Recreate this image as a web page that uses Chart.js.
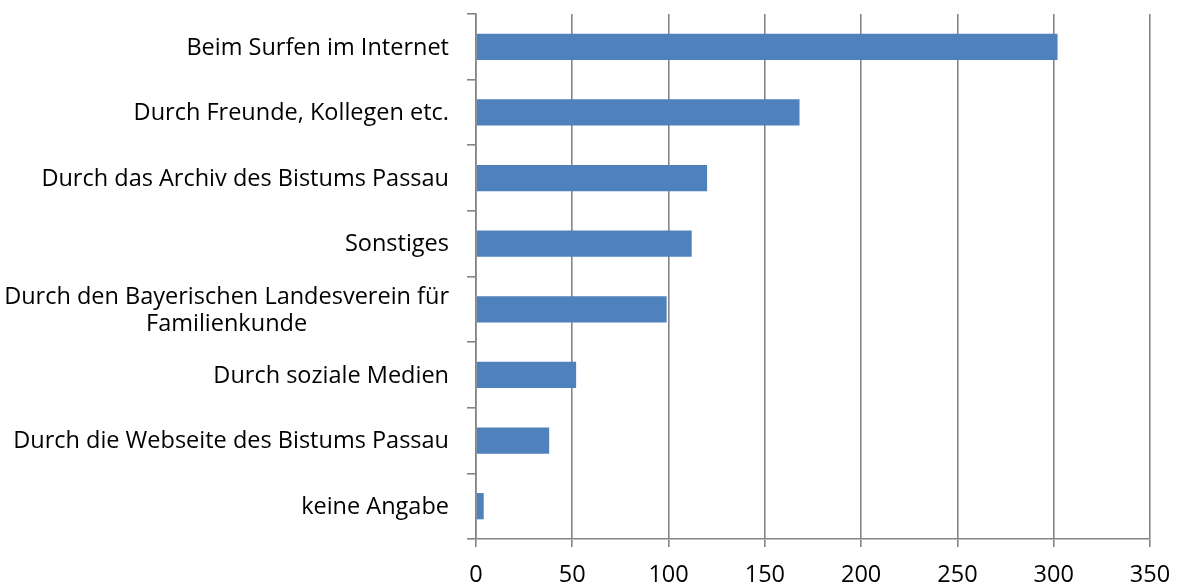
<!DOCTYPE html>
<html>
<head>
<meta charset="utf-8">
<script src="https://cdn.jsdelivr.net/npm/chart.js@4.4.1/dist/chart.umd.min.js"></script>
<style>
    html, body { margin: 0; padding: 0; background: #ffffff; }
    #wrap { width: 1180px; height: 588px; }
</style>
</head>
<body>
<div id="wrap"><canvas id="chart" width="1180" height="588"></canvas></div>
<script>
// Categories (top to bottom) and their counts
const categories = [
    ['Beim Surfen im Internet'],
    ['Durch Freunde, Kollegen etc.'],
    ['Durch das Archiv des Bistums Passau'],
    ['Sonstiges'],
    ['Durch den Bayerischen Landesverein für', 'Familienkunde'],
    ['Durch soziale Medien'],
    ['Durch die Webseite des Bistums Passau'],
    ['keine Angabe']
];
const counts = [302, 168, 120, 112, 99, 52, 38, 4];
const xTicks = [0, 50, 100, 150, 200, 250, 300, 350];

const FONT = '"Open Sans", sans-serif';
const FONT_SIZE = 23.5;
const AXIS_GRAY = '#858585';

// Category labels drawn by hand so each multi-line label is centred on itself
const categoryLabels = {
    id: 'categoryLabels',
    afterDraw(chart) {
        const ctx = chart.ctx;
        const y = chart.scales.y;
        const lineH = 27;
        ctx.save();
        ctx.font = FONT_SIZE + 'px ' + FONT;
        ctx.fillStyle = '#000000';
        ctx.textBaseline = 'middle';
        categories.forEach((lines, i) => {
            const cy = y.getPixelForValue(i);
            const right = y.right - 27;
            const widest = Math.max(...lines.map(l => ctx.measureText(l).width));
            const startY = cy - (lines.length - 1) * lineH / 2;
            lines.forEach((line, j) => {
                ctx.textAlign = lines.length > 1 ? 'center' : 'right';
                const x = lines.length > 1 ? right - widest / 2 : right;
                ctx.fillText(line, x, startY + j * lineH + 1);
            });
        });
        ctx.restore();
    }
};

new Chart(document.getElementById('chart'), {
    type: 'bar',
    data: {
        labels: categories.map(c => c.join(' ')),
        datasets: [{
            data: counts,
            backgroundColor: '#4F81BD',
            borderWidth: 0,
            barPercentage: 0.4,
            categoryPercentage: 1.0
        }]
    },
    options: {
        indexAxis: 'y',
        responsive: false,
        animation: false,
        layout: { padding: { left: 0, right: 30, top: 14, bottom: 0 } },
        plugins: {
            legend: { display: false },
            tooltip: { enabled: false }
        },
        scales: {
            x: {
                min: 0,
                max: 350,
                afterBuildTicks(scale) {
                    scale.ticks = xTicks.map(v => ({ value: v }));
                },
                afterFit(scale) {
                    scale.height = 49;
                    // the outer labels fit inside the layout padding already
                    scale.paddingLeft = 0;
                    scale.paddingRight = 0;
                },
                grid: {
                    color: AXIS_GRAY,
                    lineWidth: 1.6,
                    tickLength: 8,
                    drawOnChartArea: true
                },
                border: { color: AXIS_GRAY, width: 1.6 },
                ticks: {
                    color: '#000000',
                    font: { family: FONT, size: FONT_SIZE },
                    padding: 14,
                    maxRotation: 0
                }
            },
            y: {
                afterFit(scale) { scale.width = 476; },
                grid: {
                    color: AXIS_GRAY,
                    lineWidth: 1.6,
                    tickLength: 9,
                    offset: true,
                    drawOnChartArea: false
                },
                border: { color: AXIS_GRAY, width: 1.6 },
                ticks: { display: false }
            }
        }
    },
    plugins: [categoryLabels]
});
</script>
</body>
</html>
